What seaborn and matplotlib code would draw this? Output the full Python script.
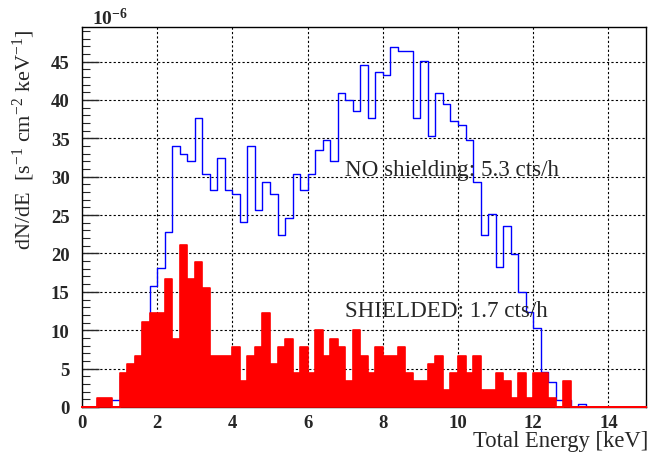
import numpy as np
import pandas as pd
import matplotlib
matplotlib.use("Agg")
import matplotlib.pyplot as plt
from matplotlib.ticker import MultipleLocator
import seaborn as sns

# Energy binning: 75 bins of 0.2 keV from 0 to 15 keV
bin_width = 0.2
n_bins = 75
bin_edges = [round(i * bin_width, 1) for i in range(n_bins + 1)]
bin_centers = [round(e + bin_width / 2, 2) for e in bin_edges[:-1]]

# Differential rate, units of 1e-6 / (s cm^2 keV)
unshielded = [
    0.0, 0.0, 0.87, 0.87, 0.87, 4.0, 5.0, 6.5, 10.5, 15.75,
    18.1, 22.85, 33.97, 32.97, 31.98, 37.7, 30.3, 28.3, 32.5, 28.3,
    27.8, 24.1, 33.97, 25.6, 29.25, 27.8, 22.4, 24.6, 30.3, 28.3,
    30.3, 33.5, 34.8, 32.1, 40.9, 40.0, 38.5, 44.6, 37.7, 43.7,
    43.2, 46.9, 46.4, 46.4, 37.7, 45.1, 35.3, 40.9, 39.5, 37.2,
    36.7, 34.8, 29.3, 22.4, 25.1, 18.2, 23.6, 19.9, 15.0, 12.4,
    10.3, 4.6, 3.3, 0.87, 0.87, 0.0, 0.35, 0.0, 0.0, 0.0,
    0.0, 0.0, 0.0, 0.0, 0.0,
]
shielded = [
    0.0, 0.0, 1.11, 1.11, 0.0, 4.44, 5.56, 6.67, 11.11, 12.22,
    12.22, 16.67, 8.89, 21.11, 16.67, 18.89, 15.56, 6.67, 6.67, 6.67,
    7.78, 3.33, 6.67, 7.78, 12.22, 5.56, 7.78, 8.89, 4.44, 7.78,
    4.44, 10.0, 6.67, 8.89, 7.78, 3.33, 10.0, 6.67, 4.44, 7.78,
    6.67, 6.67, 7.78, 4.44, 3.33, 3.33, 5.56, 6.67, 2.22, 4.44,
    6.67, 4.44, 6.67, 2.22, 2.22, 4.44, 3.33, 1.11, 4.44, 1.11,
    4.44, 4.44, 1.11, 0.0, 3.33, 0.0, 0.0, 0.0, 0.0, 0.0,
    0.0, 0.0, 0.0, 0.0, 0.0,
]

label_unshielded = "NO shielding: 5.3 cts/h"
label_shielded = "SHIELDED: 1.7 cts/h"
x_title = "Total Energy [keV]"
y_title = r"dN/dE  [s$^{\mathrm{-1}}$ cm$^{\mathrm{-2}}$ keV$^{\mathrm{-1}}$]"

spectra = pd.DataFrame({
    "energy": bin_centers,
    "unshielded": unshielded,
    "shielded": shielded,
})

sns.set_style("white")
plt.rcParams["font.family"] = ["Liberation Serif", "DejaVu Serif"]
plt.rcParams["mathtext.fontset"] = "custom"
plt.rcParams["mathtext.rm"] = "Liberation Serif"
plt.rcParams["mathtext.it"] = "Liberation Serif:italic"
plt.rcParams["mathtext.bf"] = "Liberation Serif:bold"

fig = plt.figure(figsize=(6.51, 4.60), dpi=100)
ax = fig.add_axes([82 / 651, 52 / 460, 564 / 651, 380 / 460])

sns.histplot(data=spectra, x="energy", weights="unshielded", bins=bin_edges,
             element="step", fill=False, color="#0000FF", linewidth=1.0,
             ax=ax, zorder=3)
sns.histplot(data=spectra, x="energy", weights="shielded", bins=bin_edges,
             element="step", fill=True, color="#FF0000", alpha=1.0,
             linewidth=1.2, edgecolor="#FF0000", ax=ax, zorder=4, clip_on=False)

ax.set_xlim(0, 15)
ax.set_ylim(0, 49.5)

# Dotted grid on the major divisions
ax.xaxis.set_major_locator(MultipleLocator(2))
ax.yaxis.set_major_locator(MultipleLocator(5))
ax.yaxis.set_minor_locator(MultipleLocator(1))
ax.grid(True, which="major", color="black", linestyle=(0, (2, 2)), linewidth=0.8)
ax.set_axisbelow(True)

for side in ["left", "right", "top", "bottom"]:
    ax.spines[side].set_visible(True)
    ax.spines[side].set_color("black")
    ax.spines[side].set_linewidth(1.0)

ax.tick_params(axis="y", which="major", direction="in", length=12, width=1.0,
               pad=9, labelsize=13.5, left=True, right=False)
ax.tick_params(axis="y", which="minor", direction="in", length=6, width=0.8,
               left=True, right=False)
ax.tick_params(axis="x", which="both", length=0, pad=5, labelsize=13.5)
for lab in ax.get_xticklabels() + ax.get_yticklabels():
    lab.set_fontweight("bold")

ax.set_xlabel("")
ax.set_ylabel("")

ax.text(7.0, 30.2, label_unshielded, fontsize=16.6, ha="left", va="baseline", zorder=6)
ax.text(7.0, 11.9, label_shielded, fontsize=16.6, ha="left", va="baseline", zorder=6)

fig.text(648 / 651, 1 - 447 / 460, x_title, fontsize=16.3, ha="right", va="baseline")
fig.text(24 / 651, 1 - 30 / 460, y_title, fontsize=16, rotation=90,
         ha="center", va="top")
fig.text(92 / 651, 1 - 25 / 460, r"$\mathbf{10^{-6}}$", fontsize=14,
         ha="left", va="baseline")

fig.savefig("out.png", dpi=100)
